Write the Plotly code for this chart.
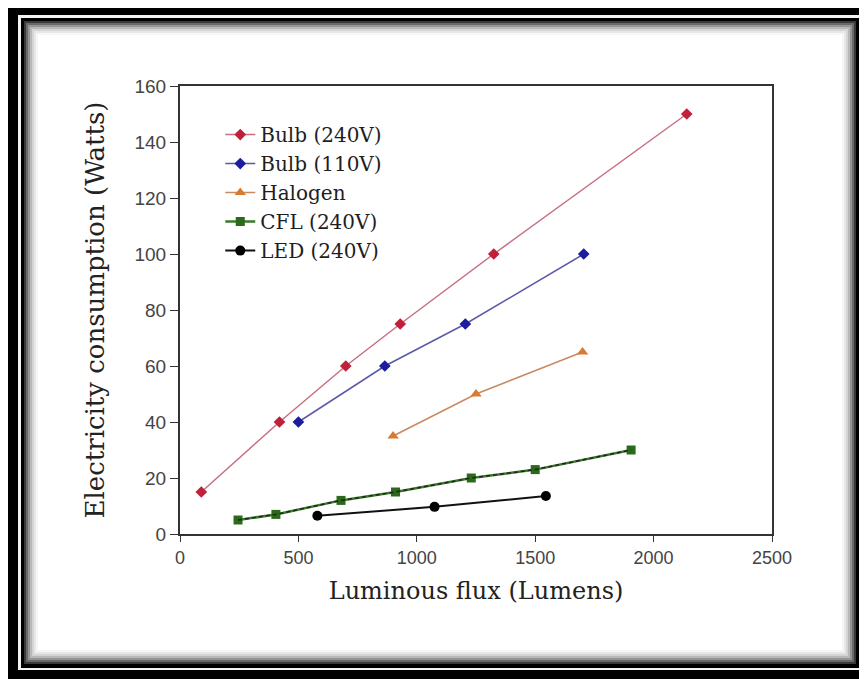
import plotly.graph_objects as go

# data
bulb240_x = [90, 420, 700, 930, 1325, 2140]
bulb240_y = [15, 40, 60, 75, 100, 150]
bulb110_x = [500, 865, 1205, 1705]
bulb110_y = [40, 60, 75, 100]
halogen_x = [900, 1250, 1700]
halogen_y = [35, 50, 65]
cfl_x = [245, 405, 680, 910, 1230, 1500, 1905]
cfl_y = [5, 7, 12, 15, 20, 23, 30]
led_x = [580, 1075, 1545]
led_y = [6.5, 9.7, 13.6]

x_ticks = [0, 500, 1000, 1500, 2000, 2500]
y_ticks = [0, 20, 40, 60, 80, 100, 120, 140, 160]

# the page body has an 8px margin, so the figure is drawn 8px in from the window corner
OFF = 8
W, H = 867 - OFF, 679 - OFF
L, R, T, B = 172, 95, 78, 145
pw, ph = W - L - R, H - T - B


def px(sx):
    # window pixel x -> paper coordinate
    return (sx - OFF - L) / pw


def py(sy):
    # window pixel y -> paper coordinate
    return (H - B - (sy - OFF)) / ph


fig = go.Figure()

fig.add_trace(go.Scatter(x=bulb240_x, y=bulb240_y, name="Bulb (240V)", mode="lines+markers",
                         line=dict(color="#c87080", width=1.5),
                         marker=dict(symbol="diamond", size=9, color="#c0203a")))
fig.add_trace(go.Scatter(x=bulb110_x, y=bulb110_y, name="Bulb (110V)", mode="lines+markers",
                         line=dict(color="#5a5aa8", width=1.5),
                         marker=dict(symbol="diamond", size=9, color="#1c1c9c")))
fig.add_trace(go.Scatter(x=halogen_x, y=halogen_y, name="Halogen", mode="lines+markers",
                         line=dict(color="#c88a60", width=1.5),
                         marker=dict(symbol="triangle-up", size=10, color="#d87a30")))
fig.add_trace(go.Scatter(x=cfl_x, y=cfl_y, name="CFL (240V)", mode="lines+markers",
                         line=dict(color="#3a7a2a", width=2.5),
                         marker=dict(symbol="square", size=9, color="#2a6a1a")))
# dark dashes on top of the green CFL line
fig.add_trace(go.Scatter(x=cfl_x, y=cfl_y, mode="lines", showlegend=False, hoverinfo="skip",
                         line=dict(color="#222222", width=1.5, dash="4px,3px")))
fig.add_trace(go.Scatter(x=led_x, y=led_y, name="LED (240V)", mode="lines+markers",
                         line=dict(color="#111111", width=2),
                         marker=dict(symbol="circle", size=10, color="#000000")))

# picture frame drawn around the whole figure
shapes = [
    dict(type="rect", xref="paper", yref="paper", layer="below",
         x0=px(7), x1=px(870), y0=py(4), y1=py(682), fillcolor="black", line=dict(width=0)),
    dict(type="rect", xref="paper", yref="paper", layer="below",
         x0=px(18), x1=px(862), y0=py(15), y1=py(670), fillcolor="#f4f4f4", line=dict(width=0)),
    dict(type="rect", xref="paper", yref="paper", layer="below",
         x0=px(21), x1=px(860), y0=py(18), y1=py(668), fillcolor="black", line=dict(width=0)),
]
grays = ["#3a3a3a", "#6a6a6a", "#959595", "#b8b8b8", "#d4d4d4", "#e8e8e8", "#f6f6f6", "white"]
for i, g in enumerate(grays):
    d = 2 * i
    shapes.append(dict(type="rect", xref="paper", yref="paper", layer="below",
                       x0=px(24 + d), x1=px(856 - d), y0=py(21 + d), y1=py(664 - d),
                       fillcolor=g, line=dict(width=0)))

fig.update_layout(
    width=W, height=H,
    margin=dict(l=L, r=R, t=T, b=B),
    paper_bgcolor="white",
    plot_bgcolor="rgba(0,0,0,0)",
    shapes=shapes,
    showlegend=True,
    legend=dict(x=0.068, y=0.935, xanchor="left", yanchor="top",
                bgcolor="rgba(0,0,0,0)", tracegroupgap=0,
                font=dict(family="DejaVu Serif", size=20, color="#1e1e1e")),
    xaxis=dict(range=[0, 2500], tickvals=x_ticks, ticks="outside", ticklen=6,
               tickcolor="#333333", showgrid=False, zeroline=False,
               showline=True, linecolor="#333333", linewidth=2, mirror=True,
               tickfont=dict(family="Liberation Sans", size=18, color="#444444"),
               title=dict(text="Luminous flux (Lumens)", standoff=16,
                          font=dict(family="DejaVu Serif", size=24, color="#222222"))),
    yaxis=dict(range=[0, 160], tickvals=y_ticks, ticks="outside", ticklen=8,
               tickcolor="#333333", showgrid=False, zeroline=False,
               showline=True, linecolor="#333333", linewidth=2, mirror=True,
               tickfont=dict(family="Liberation Sans", size=19, color="#444444"),
               title=dict(text="Electricity consumption (Watts)", standoff=22,
                          font=dict(family="DejaVu Serif", size=26, color="#222222"))),
)

fig.write_html("out.html")
